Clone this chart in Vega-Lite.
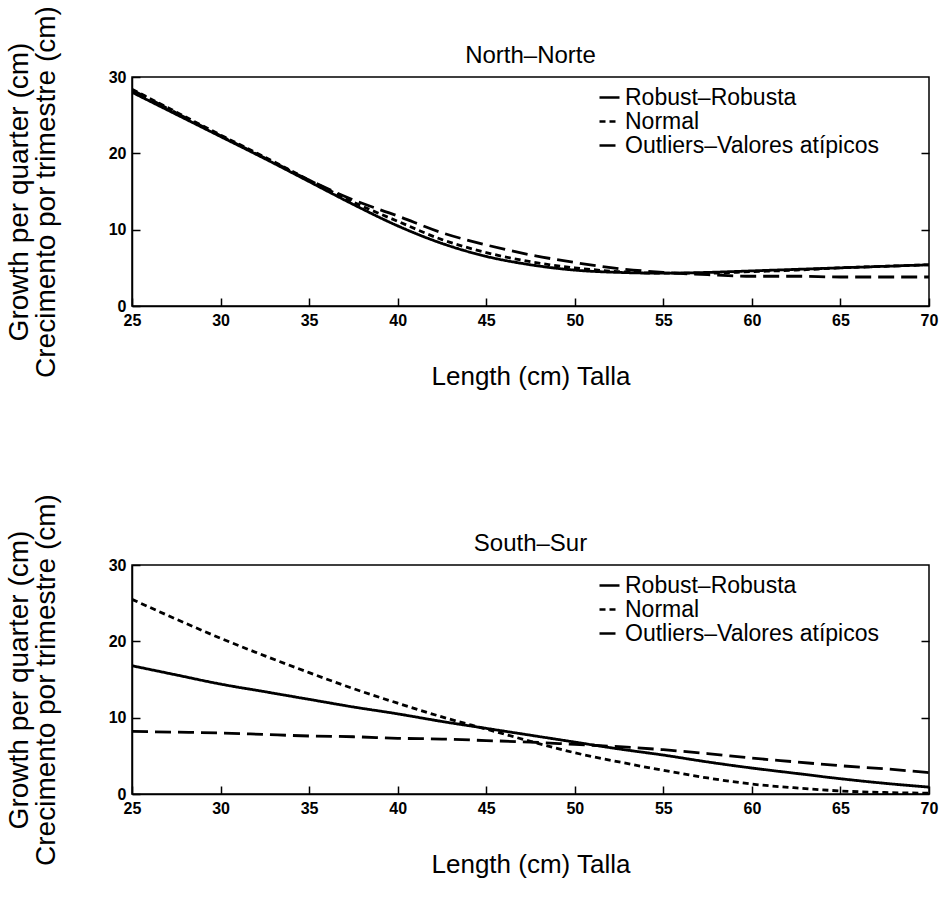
{
  "$schema": "https://vega.github.io/schema/vega-lite/v6.json",
  "padding": {"left": 4, "top": 4, "right": 5, "bottom": 5},
  "background": "white",
  "datasets": {
    "north": [
      {"length": 25, "Robust–Robusta": 28.0, "Normal": 28.4, "Outliers–Valores atípicos": 28.3},
      {"length": 27.5, "Robust–Robusta": 25.1, "Normal": 25.4, "Outliers–Valores atípicos": 25.3},
      {"length": 30, "Robust–Robusta": 22.2, "Normal": 22.4, "Outliers–Valores atípicos": 22.3},
      {"length": 32.5, "Robust–Robusta": 19.3, "Normal": 19.5, "Outliers–Valores atípicos": 19.4},
      {"length": 35, "Robust–Robusta": 16.3, "Normal": 16.5, "Outliers–Valores atípicos": 16.5},
      {"length": 37.5, "Robust–Robusta": 13.3, "Normal": 13.6, "Outliers–Valores atípicos": 13.9},
      {"length": 40, "Robust–Robusta": 10.5, "Normal": 11.1, "Outliers–Valores atípicos": 11.8},
      {"length": 42.5, "Robust–Robusta": 8.2, "Normal": 8.7, "Outliers–Valores atípicos": 9.6},
      {"length": 45, "Robust–Robusta": 6.5, "Normal": 7.0, "Outliers–Valores atípicos": 8.0},
      {"length": 47.5, "Robust–Robusta": 5.4, "Normal": 5.8, "Outliers–Valores atípicos": 6.7},
      {"length": 50, "Robust–Robusta": 4.7, "Normal": 5.0, "Outliers–Valores atípicos": 5.7},
      {"length": 52.5, "Robust–Robusta": 4.4, "Normal": 4.5, "Outliers–Valores atípicos": 4.9},
      {"length": 55, "Robust–Robusta": 4.3, "Normal": 4.3, "Outliers–Valores atípicos": 4.4},
      {"length": 57.5, "Robust–Robusta": 4.4, "Normal": 4.3, "Outliers–Valores atípicos": 4.1},
      {"length": 60, "Robust–Robusta": 4.6, "Normal": 4.5, "Outliers–Valores atípicos": 3.9},
      {"length": 62.5, "Robust–Robusta": 4.8, "Normal": 4.7, "Outliers–Valores atípicos": 3.9},
      {"length": 65, "Robust–Robusta": 5.0, "Normal": 5.0, "Outliers–Valores atípicos": 3.8},
      {"length": 67.5, "Robust–Robusta": 5.2, "Normal": 5.2, "Outliers–Valores atípicos": 3.8},
      {"length": 70, "Robust–Robusta": 5.4, "Normal": 5.4, "Outliers–Valores atípicos": 3.8}
    ],
    "south": [
      {"length": 25, "Robust–Robusta": 16.8, "Normal": 25.5, "Outliers–Valores atípicos": 8.2},
      {"length": 27.5, "Robust–Robusta": 15.6, "Normal": 22.9, "Outliers–Valores atípicos": 8.1},
      {"length": 30, "Robust–Robusta": 14.4, "Normal": 20.4, "Outliers–Valores atípicos": 8.0},
      {"length": 32.5, "Robust–Robusta": 13.4, "Normal": 18.1, "Outliers–Valores atípicos": 7.8},
      {"length": 35, "Robust–Robusta": 12.4, "Normal": 15.9, "Outliers–Valores atípicos": 7.6},
      {"length": 37.5, "Robust–Robusta": 11.4, "Normal": 13.8, "Outliers–Valores atípicos": 7.5},
      {"length": 40, "Robust–Robusta": 10.5, "Normal": 11.9, "Outliers–Valores atípicos": 7.3},
      {"length": 42.5, "Robust–Robusta": 9.5, "Normal": 10.1, "Outliers–Valores atípicos": 7.2},
      {"length": 45, "Robust–Robusta": 8.6, "Normal": 8.5, "Outliers–Valores atípicos": 7.0},
      {"length": 47.5, "Robust–Robusta": 7.7, "Normal": 6.9, "Outliers–Valores atípicos": 6.8},
      {"length": 50, "Robust–Robusta": 6.8, "Normal": 5.4, "Outliers–Valores atípicos": 6.5},
      {"length": 52.5, "Robust–Robusta": 5.9, "Normal": 4.2, "Outliers–Valores atípicos": 6.2},
      {"length": 55, "Robust–Robusta": 5.1, "Normal": 3.1, "Outliers–Valores atípicos": 5.8},
      {"length": 57.5, "Robust–Robusta": 4.2, "Normal": 2.1, "Outliers–Valores atípicos": 5.3},
      {"length": 60, "Robust–Robusta": 3.4, "Normal": 1.3, "Outliers–Valores atípicos": 4.7},
      {"length": 62.5, "Robust–Robusta": 2.7, "Normal": 0.8, "Outliers–Valores atípicos": 4.2},
      {"length": 65, "Robust–Robusta": 2.0, "Normal": 0.4, "Outliers–Valores atípicos": 3.7},
      {"length": 67.5, "Robust–Robusta": 1.4, "Normal": 0.2, "Outliers–Valores atípicos": 3.3},
      {"length": 70, "Robust–Robusta": 0.9, "Normal": 0.1, "Outliers–Valores atípicos": 2.8}
    ]
  },
  "spacing": 102,
  "resolve": {"scale": {"strokeDash": "independent"}, "legend": {"strokeDash": "independent"}},
  "vconcat": [
    {
      "title": {"text": "North–Norte"},
      "width": 797,
      "height": 229,
      "data": {"name": "north"},
      "transform": [{"fold": ["Robust–Robusta", "Normal", "Outliers–Valores atípicos"], "as": ["model", "growth"]}],
      "layer": [
        {
          "mark": {"type": "line", "color": "black", "strokeWidth": 2.8, "interpolate": "monotone", "clip": true},
          "encoding": {
            "x": {"field": "length", "type": "quantitative", "scale": {"domain": [25, 70], "nice": false, "zero": false},
                  "axis": {"values": [25, 30, 35, 40, 45, 50, 55, 60, 65, 70], "title": "Length (cm) Talla"}},
            "y": {"field": "growth", "type": "quantitative", "scale": {"domain": [0, 30], "nice": false},
                  "axis": {"values": [0, 10, 20, 30], "title": ["Growth per quarter (cm)", "Crecimento por trimestre (cm)"]}},
            "strokeDash": {"field": "model", "type": "nominal",
                  "scale": {"domain": ["Robust–Robusta", "Normal", "Outliers–Valores atípicos"], "range": [[1, 0], [6, 4], [16, 7]]},
                  "legend": {"orient": "none", "legendX": 466, "legendY": 9, "symbolSize": 400, "labelFontSize": 23, "rowPadding": -10}}
          }
        },
        {
          "mark": {"type": "line", "opacity": 0},
          "encoding": {
            "x": {"field": "length", "type": "quantitative"},
            "y": {"field": "growth", "type": "quantitative", "scale": {"domain": [0, 30], "nice": false},
                  "axis": {"orient": "right", "values": [10, 20], "labels": false, "domain": false, "title": null}}
          }
        }
      ],
      "resolve": {"scale": {"y": "independent"}}
    },
    {
      "title": {"text": "South–Sur"},
      "width": 797,
      "height": 229,
      "data": {"name": "south"},
      "transform": [{"fold": ["Robust–Robusta", "Normal", "Outliers–Valores atípicos"], "as": ["model", "growth"]}],
      "layer": [
        {
          "mark": {"type": "line", "color": "black", "strokeWidth": 2.8, "interpolate": "monotone", "clip": true},
          "encoding": {
            "x": {"field": "length", "type": "quantitative", "scale": {"domain": [25, 70], "nice": false, "zero": false},
                  "axis": {"values": [25, 30, 35, 40, 45, 50, 55, 60, 65, 70], "title": "Length (cm) Talla"}},
            "y": {"field": "growth", "type": "quantitative", "scale": {"domain": [0, 30], "nice": false},
                  "axis": {"values": [0, 10, 20, 30], "title": ["Growth per quarter (cm)", "Crecimento por trimestre (cm)"]}},
            "strokeDash": {"field": "model", "type": "nominal",
                  "scale": {"domain": ["Robust–Robusta", "Normal", "Outliers–Valores atípicos"], "range": [[1, 0], [6, 4], [16, 7]]},
                  "legend": {"orient": "none", "legendX": 466, "legendY": 9, "symbolSize": 400, "labelFontSize": 23, "rowPadding": -10}}
          }
        },
        {
          "mark": {"type": "line", "opacity": 0},
          "encoding": {
            "x": {"field": "length", "type": "quantitative"},
            "y": {"field": "growth", "type": "quantitative", "scale": {"domain": [0, 30], "nice": false},
                  "axis": {"orient": "right", "values": [10, 20], "labels": false, "domain": false, "title": null}}
          }
        }
      ],
      "resolve": {"scale": {"y": "independent"}}
    }
  ],
  "config": {
    "font": "Liberation Sans",
    "view": {"stroke": "black", "strokeWidth": 1.5},
    "title": {"fontSize": 24, "fontWeight": "normal", "font": "Liberation Sans", "color": "black", "offset": -62, "frame": "group"},
    "axis": {
      "grid": false,
      "domainColor": "black", "domainWidth": 1.5,
      "tickColor": "black", "tickWidth": 1.5, "tickSize": -8,
      "labelFont": "Liberation Sans", "labelFontSize": 16, "labelFontWeight": "bold", "labelColor": "black",
      "labelFlush": false, "labelPadding": 14,
      "titleFont": "Liberation Sans", "titleFontWeight": "normal", "titleColor": "black"
    },
    "axisX": {"titleFontSize": 26, "titlePadding": 35},
    "axisY": {"titleFontSize": 28, "titleLineHeight": 27, "titlePadding": 48},
    "legend": {
      "title": null,
      "symbolType": "stroke", "symbolStrokeColor": "black", "symbolStrokeWidth": 2.5,
      "labelFont": "Liberation Sans", "labelColor": "black", "labelOffset": 4, "labelLimit": 0,
      "padding": 0
    }
  }
}
